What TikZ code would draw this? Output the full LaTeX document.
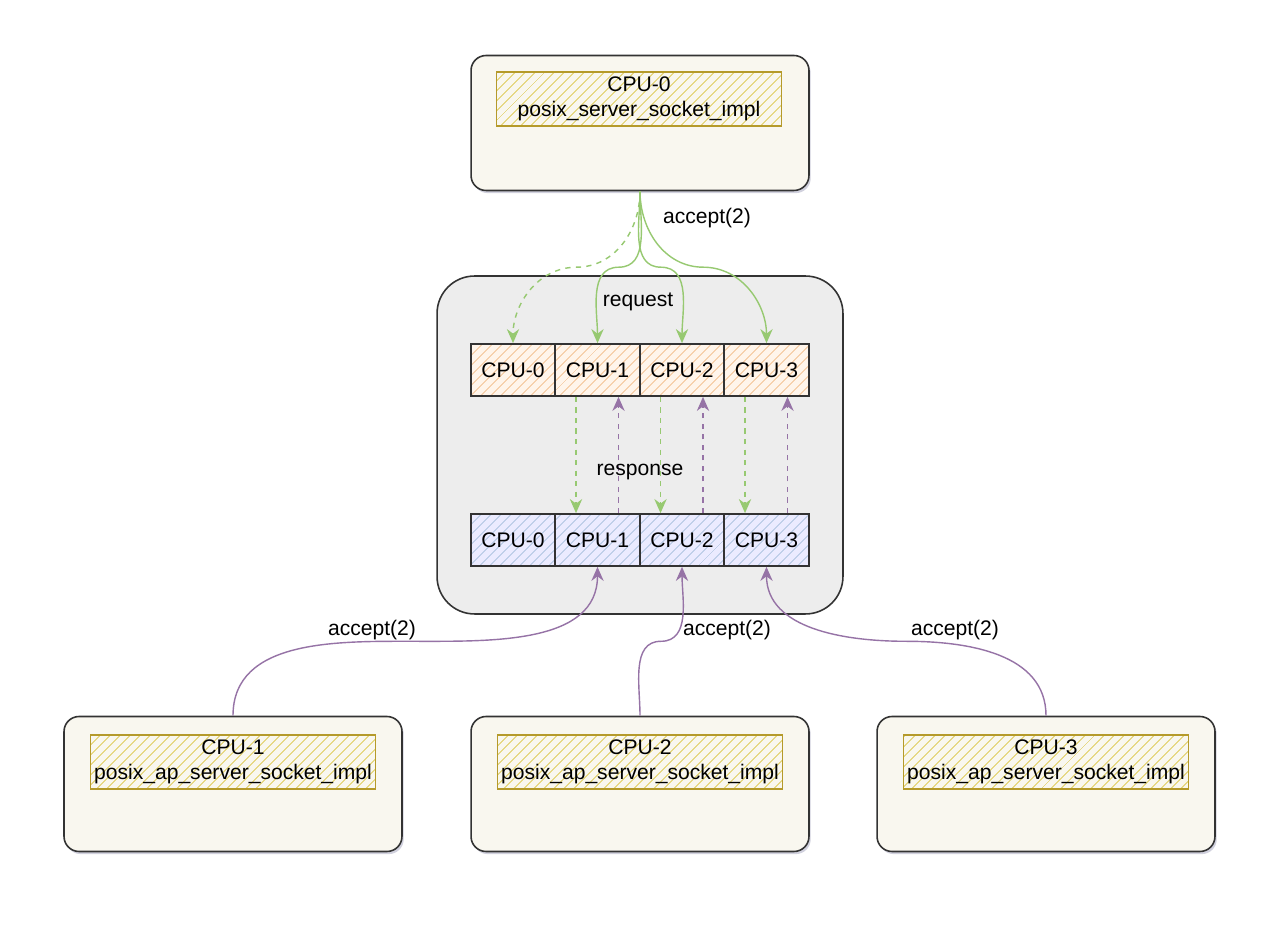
\documentclass[tikz,border=0pt]{standalone}
\usepackage{fontspec}
\setmainfont{Liberation Sans}
\usetikzlibrary{arrows.meta,patterns.meta,shadows,calc}

\definecolor{cream}{HTML}{F9F7EF}
\definecolor{edge}{HTML}{333333}
\definecolor{gold}{HTML}{B59A2B}
\definecolor{goldhatch}{HTML}{DCC84E}
\definecolor{poolgray}{HTML}{EDEDED}
\definecolor{orangehatch}{HTML}{F2BE8C}
\definecolor{bluehatch}{HTML}{A9C1DE}
\definecolor{reqgreen}{HTML}{97C971}
\definecolor{rsppurple}{HTML}{9673A6}

\tikzset{
  host/.style={draw=edge, line width=0.9pt, fill=cream, rounded corners=0.3cm,
    minimum width=6.76cm, minimum height=2.7cm,
    drop shadow={opacity=0.18, fill=black!70!blue, shadow xshift=1pt, shadow yshift=-1.5pt}},
  implbox/.style={draw=gold, line width=1pt, preaction={fill=cream},
    pattern={Lines[angle=45,distance=4pt,line width=0.5pt]}, pattern color=goldhatch,
    minimum width=5.7cm, minimum height=1.08cm, inner sep=0pt, align=center,
    font=\fontsize{12}{14}\selectfont},
  cell/.style={draw=edge, line width=1pt, minimum width=1.69cm, minimum height=1.04cm,
    inner sep=0pt, pattern={Lines[angle=45,distance=4pt,line width=0.5pt]},
    font=\fontsize{12}{14}\selectfont},
  reqcell/.style={cell, preaction={fill=white!92!orange}, pattern color=orangehatch},
  rspcell/.style={cell, preaction={fill=white!92!blue}, pattern color=bluehatch},
  tolink/.style={reqgreen, line width=0.8pt, -{Stealth[length=8pt,width=7pt]}},
  fromlink/.style={rsppurple, line width=0.8pt, -{Stealth[length=8pt,width=7pt]}},
  lbl/.style={font=\fontsize{12}{14}\selectfont}
}

\begin{document}
\begin{tikzpicture}[x=0.02cm,y=0.02cm]
% draw page
\useasboundingbox (0,0) rectangle (1280,936);
\fill[white] (0,0) rectangle (1280,936);

% draw server socket
\node[host] (srv) at (640,813) {};
\node[implbox] (srvimpl) at (639,837) {CPU-0\\posix\_server\_socket\_impl};

% draw queue pool
\node[draw=edge, line width=0.9pt, fill=poolgray, rounded corners=0.75cm,
  minimum width=8.12cm, minimum height=6.76cm] (pool) at (640,491) {};
\foreach \i in {0,...,3}
{
\node[reqcell] (req\i) at ({513+84.5*\i},566) {CPU-\i};
\node[rspcell] (rsp\i) at ({513+84.5*\i},396) {CPU-\i};
}

% draw ap server sockets
\foreach \i/\x in {1/233,2/640,3/1046}
{
\node[host] (ap\i) at (\x,152) {};
\node[implbox] (apimpl\i) at (\x,174) {CPU-\i\\posix\_ap\_server\_socket\_impl};
}

% draw requests
\draw[tolink, dashed] (srv.south) to[out=-90,in=0] ($(srv.south)!0.5!(req0.north)$)
  to[out=180,in=90] (req0.north);
\foreach \i/\a/\b in {1/0/180,2/180/0,3/180/0}
\draw[tolink] (srv.south) to[out=-90,in=\a] ($(srv.south)!0.5!(req\i.north)$)
  to[out=\b,in=90] (req\i.north);
\node[lbl] (acc0) at (707,718) {accept(2)};
\node[lbl] (request) at (638,634) {request};

% draw responses
\foreach \i in {1,2,3}
{
\draw[tolink, dashed] ([xshift=-0.43cm]req\i.south) -- ([xshift=-0.43cm]rsp\i.north);
\draw[fromlink, dashed] ([xshift=0.42cm]rsp\i.north) -- ([xshift=0.42cm]req\i.south);
}
\node[lbl] (response) at (640,464) {response};

% draw accepts
\foreach \i/\a/\b in {1/180/0,2/180/0,3/0/180}
\draw[fromlink] (ap\i.north) to[out=90,in=\a] ($(ap\i.north)!0.5!(rsp\i.south)$)
  to[out=\b,in=-90] (rsp\i.south);
\node[lbl] (acc1) at (372,306) {accept(2)};
\node[lbl] (acc2) at (727,306) {accept(2)};
\node[lbl] (acc3) at (955,306) {accept(2)};
\end{tikzpicture}
\end{document}
